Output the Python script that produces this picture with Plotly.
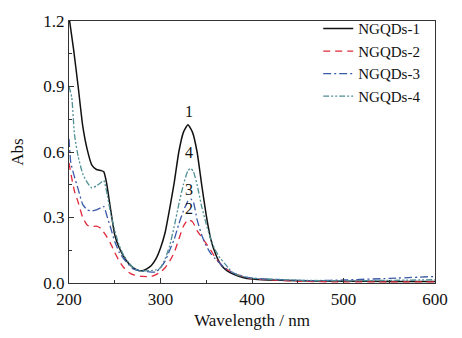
import plotly.graph_objects as go

# ---- data ----
wl1 = [200, 205, 210, 215, 220, 225, 230, 235, 238, 241, 245, 250, 255, 260, 265, 270, 275, 280,
       285, 290, 295, 300, 305, 310, 315, 320, 325, 330, 335, 340, 345, 350, 355, 360, 365, 370,
       375, 380, 390, 400, 450, 500, 550, 600]
abs1 = [1.22, 1.07, 0.9, 0.72, 0.61, 0.54, 0.52, 0.515, 0.51, 0.46, 0.35, 0.22, 0.16, 0.12, 0.09, 0.07,
        0.058, 0.056, 0.065, 0.08, 0.11, 0.16, 0.23, 0.34, 0.46, 0.6, 0.69, 0.725, 0.69, 0.6, 0.45,
        0.31, 0.2, 0.135, 0.09, 0.065, 0.05, 0.04, 0.025, 0.018, 0.01, 0.008, 0.007, 0.007]

wl2 = [200, 203, 206, 210, 215, 220, 225, 230, 235, 240, 245, 250, 255, 260, 265, 270, 280, 290,
       300, 305, 310, 315, 320, 325, 330, 335, 340, 345, 350, 355, 360, 365, 370, 380, 390, 400,
       450, 500, 550, 600]
abs2 = [0.55, 0.48, 0.42, 0.37, 0.3, 0.265, 0.258, 0.26, 0.25, 0.22, 0.185, 0.14, 0.1, 0.07, 0.05,
        0.038, 0.03, 0.03, 0.05, 0.07, 0.1, 0.14, 0.2, 0.26, 0.29, 0.28, 0.24, 0.21, 0.18, 0.15,
        0.115, 0.09, 0.07, 0.045, 0.03, 0.02, 0.008, 0.005, 0.005, 0.005]

wl3 = [200, 202, 205, 210, 215, 220, 225, 230, 235, 238, 242, 245, 250, 255, 260, 265, 270, 280,
       290, 295, 300, 305, 310, 315, 320, 325, 330, 333, 336, 340, 345, 350, 355, 360, 365, 370,
       380, 390, 400, 450, 470, 500, 550, 600]
abs3 = [0.66, 0.55, 0.5, 0.43, 0.36, 0.335, 0.33, 0.335, 0.345, 0.35, 0.3, 0.26, 0.19, 0.14, 0.11,
        0.085, 0.065, 0.055, 0.05, 0.05, 0.07, 0.1, 0.15, 0.2, 0.27, 0.33, 0.375, 0.385, 0.37, 0.29,
        0.22, 0.17, 0.135, 0.11, 0.09, 0.07, 0.045, 0.03, 0.022, 0.012, 0.011, 0.014, 0.021, 0.03]

wl4 = [200, 203, 206, 210, 215, 220, 225, 230, 235, 238, 242, 245, 250, 255, 260, 265, 270, 275,
       280, 290, 295, 300, 305, 310, 315, 320, 325, 330, 333, 336, 340, 345, 350, 355, 360, 365,
       370, 375, 380, 390, 400, 450, 500, 550, 600]
abs4 = [0.9, 0.85, 0.68, 0.58, 0.5, 0.46, 0.435, 0.445, 0.46, 0.47, 0.4, 0.33, 0.24, 0.17, 0.125,
        0.095, 0.07, 0.058, 0.055, 0.057, 0.06, 0.07, 0.11, 0.17, 0.26, 0.36, 0.45, 0.515, 0.525,
        0.51, 0.45, 0.35, 0.27, 0.2, 0.15, 0.115, 0.09, 0.065, 0.045, 0.03, 0.022, 0.013, 0.01,
        0.012, 0.015]

names = ["NGQDs-1", "NGQDs-2", "NGQDs-3", "NGQDs-4"]
peak_labels = ["1", "2", "3", "4"]
label_x = [331, 331, 331, 331]
label_y = [0.785, 0.34, 0.43, 0.6]

FONT = "Liberation Serif, Times New Roman, serif"
colors = ["#111111", "#e0283a", "#3a5aa8", "#4f8f96"]
dashes = ["solid", "7px,5px", "8px,3px,2px,3px", "6px,2px,2px,2px,2px,2px"]
widths = [1.5, 1.3, 1.3, 1.3]

fig = go.Figure()
for wl, ab, n, c, d, w in zip([wl1, wl2, wl3, wl4], [abs1, abs2, abs3, abs4], names, colors, dashes, widths):
    fig.add_trace(go.Scatter(x=wl, y=ab, mode="lines", name=n,
                             line=dict(color=c, dash=d, width=w, shape="spline", smoothing=0.5)))

for t, lx, ly in zip(peak_labels, label_x, label_y):
    fig.add_annotation(x=lx, y=ly, text=t, showarrow=False,
                       font=dict(family=FONT, size=16, color="#111"))

axis_common = dict(showline=True, linecolor="#333", linewidth=1.2, mirror=True,
                   ticks="inside", ticklen=5, tickcolor="#333", tickwidth=1,
                   showgrid=False, zeroline=False,
                   tickfont=dict(family=FONT, size=17, color="#111"))

fig.update_xaxes(range=[200, 600], dtick=100, tick0=200,
                 minor=dict(ticks="inside", ticklen=3, dtick=50, tickcolor="#333"),
                 title=dict(text="Wavelength / nm", font=dict(family=FONT, size=17, color="#111"),
                            standoff=6),
                 **axis_common)
fig.update_yaxes(range=[0, 1.2], dtick=0.3, tick0=0, tickformat=".1f",
                 minor=dict(ticks="inside", ticklen=3, dtick=0.15, tickcolor="#333"),
                 title=dict(text="Abs", font=dict(family=FONT, size=17, color="#111"), standoff=15),
                 **axis_common)

fig.update_layout(
    width=462, height=338,
    margin=dict(l=69, r=27, t=14, b=53),
    plot_bgcolor="white", paper_bgcolor="white",
    showlegend=True,
    legend=dict(x=0.976, xanchor="right", y=1.033, yanchor="top",
                bgcolor="rgba(0,0,0,0)", font=dict(family=FONT, size=15, color="#111"),
                tracegroupgap=0, itemwidth=30),
)

fig.write_html("out.html")
